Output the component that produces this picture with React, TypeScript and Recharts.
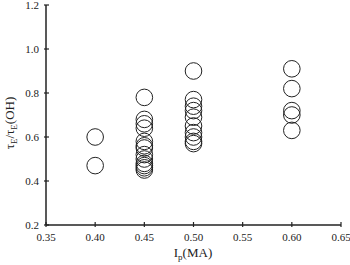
import { Label, Scatter, ScatterChart, XAxis, YAxis } from 'recharts';

const xTicks = [0.35, 0.4, 0.45, 0.5, 0.55, 0.6, 0.65];
const yTicks = [0.2, 0.4, 0.6, 0.8, 1.0, 1.2];

const currents = [0.4, 0.45, 0.5, 0.6];
const ratios040 = [0.6, 0.47];
const ratios045 = [0.78, 0.68, 0.66, 0.64, 0.58, 0.56, 0.55, 0.52, 0.5, 0.48, 0.47, 0.46, 0.45];
const ratios050 = [0.9, 0.77, 0.74, 0.72, 0.69, 0.65, 0.62, 0.6, 0.58, 0.57];
const ratios060 = [0.91, 0.82, 0.72, 0.7, 0.63];

const groups = [ratios040, ratios045, ratios050, ratios060];
const points = groups.flatMap((list, i) =>
  list.map((v) => ({ x: currents[i], y: v })),
);

const font = '"Liberation Serif", "Times New Roman", serif';
const ink = '#222';

const XTick = (props: any) => {
  const { x, y, payload } = props;
  return (
    <g>
      <line x1={x} x2={x} y1={y} y2={y - 5} stroke={ink} strokeWidth={1.2} />
      <text x={x} y={y + 14} textAnchor="middle" fontSize={11} fontFamily={font} fill={ink}>
        {payload.value.toFixed(2)}
      </text>
    </g>
  );
};

const YTick = (props: any) => {
  const { x, y, payload } = props;
  return (
    <g>
      <line x1={x} x2={x + 5} y1={y} y2={y} stroke={ink} strokeWidth={1.2} />
      <text x={x - 5} y={y + 4} textAnchor="end" fontSize={11} fontFamily={font} fill={ink}>
        {payload.value.toFixed(1)}
      </text>
    </g>
  );
};

const Ring = (props: any) => (
  <circle cx={props.cx} cy={props.cy} r={8.3} fill="none" stroke={ink} strokeWidth={1} />
);

const YTitle = () => (
  <text
    transform="translate(14,123) rotate(-90)"
    textAnchor="middle"
    fontSize={13}
    fontFamily={font}
    fill={ink}
  >
    τ<tspan fontSize={9} dy={3}>E</tspan>
    <tspan dy={-3}>/τ</tspan>
    <tspan fontSize={9} dy={3}>E</tspan>
    <tspan dy={-3}>(OH)</tspan>
  </text>
);

const XTitle = () => (
  <text x={193} y={257} textAnchor="middle" fontSize={13} fontFamily={font} fill={ink}>
    I<tspan fontSize={9} dy={3}>p</tspan>
    <tspan dy={-3}>(MA)</tspan>
  </text>
);

export default function App() {
  return (
    <div style={{ position: 'absolute', left: 0, top: 0 }}>
      <ScatterChart width={350} height={265} margin={{ top: 5, right: 9, bottom: 0, left: 0 }}>
        <XAxis
          type="number"
          dataKey="x"
          domain={[0.35, 0.65]}
          ticks={xTicks}
          height={40}
          tickSize={0}
          tickLine={false}
          tick={<XTick />}
          axisLine={{ stroke: ink, strokeWidth: 1.5 }}
          interval={0}
        >
          <Label content={<XTitle />} />
        </XAxis>
        <XAxis
          xAxisId="top"
          orientation="top"
          type="number"
          domain={[0.35, 0.65]}
          height={0}
          tick={false}
          tickLine={false}
          axisLine={{ stroke: ink, strokeWidth: 1.5 }}
        />
        <YAxis
          type="number"
          dataKey="y"
          domain={[0.2, 1.2]}
          ticks={yTicks}
          width={46}
          tickSize={0}
          tickLine={false}
          tick={<YTick />}
          axisLine={{ stroke: ink, strokeWidth: 1.5 }}
          interval={0}
        >
          <Label content={<YTitle />} />
        </YAxis>
        <YAxis
          yAxisId="right"
          orientation="right"
          type="number"
          domain={[0.2, 1.2]}
          width={0}
          tick={false}
          tickLine={false}
          axisLine={{ stroke: ink, strokeWidth: 1.5 }}
        />
        <Scatter data={points} shape={<Ring />} isAnimationActive={false} />
      </ScatterChart>
    </div>
  );
}
